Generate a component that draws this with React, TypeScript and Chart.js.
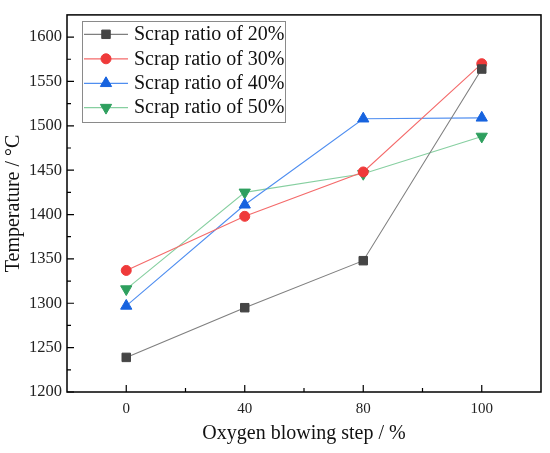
import React, { useEffect, useRef } from 'react';
import { Chart, registerables } from 'chart.js';

Chart.register(...registerables);

const categories: string[] = ['0', '40', '80', '100'];
const scrap20: number[] = [1239, 1295, 1348, 1564];
const scrap30: number[] = [1337, 1398, 1448, 1570];
const scrap40: number[] = [1297, 1411, 1508, 1509];
const scrap50: number[] = [1316, 1425, 1446, 1488];
const seriesLabels: string[] = [
  'Scrap ratio of 20%',
  'Scrap ratio of 30%',
  'Scrap ratio of 40%',
  'Scrap ratio of 50%',
];
const yMajorTicks: number[] = [1200, 1250, 1300, 1350, 1400, 1450, 1500, 1550, 1600];
const yMinorTicks: number[] = [1225, 1275, 1325, 1375, 1425, 1475, 1525, 1575];
const xMinorTicks: number[] = [0.5, 1.5, 2.5];

const FONT = '"Liberation Serif", "Times New Roman", serif';

type Marker = { style: string; radius: number; rotation: number; fill: string; line: string };
const markers: Marker[] = [
  { style: 'rect', radius: 6, rotation: 0, fill: '#454545', line: '#7f7f7f' },
  { style: 'circle', radius: 5, rotation: 0, fill: '#ef3a3a', line: '#f46a6a' },
  { style: 'triangle', radius: 6.5, rotation: 0, fill: '#1763df', line: '#4f8ef0' },
  { style: 'triangle', radius: 6.5, rotation: 180, fill: '#2e9f5e', line: '#86cfa0' },
];

function drawMarker(ctx: CanvasRenderingContext2D, m: Marker, x: number, y: number) {
  ctx.save();
  ctx.fillStyle = m.fill;
  ctx.strokeStyle = m.fill;
  ctx.lineWidth = 1;
  ctx.beginPath();
  const r = m.radius;
  if (m.style === 'circle') {
    ctx.arc(x, y, r, 0, Math.PI * 2);
  } else if (m.style === 'rect') {
    const s = Math.SQRT1_2 * r;
    ctx.rect(x - s, y - s, 2 * s, 2 * s);
  } else {
    let rad = (m.rotation * Math.PI) / 180;
    ctx.moveTo(x + Math.sin(rad) * r, y - Math.cos(rad) * r);
    rad += (2 * Math.PI) / 3;
    ctx.lineTo(x + Math.sin(rad) * r, y - Math.cos(rad) * r);
    rad += (2 * Math.PI) / 3;
    ctx.lineTo(x + Math.sin(rad) * r, y - Math.cos(rad) * r);
  }
  ctx.closePath();
  ctx.fill();
  ctx.stroke();
  ctx.restore();
}

const framePlugin = {
  id: 'frameAndTicks',
  afterDraw(chart: any) {
    const ctx: CanvasRenderingContext2D = chart.ctx;
    const { left, right, top, bottom } = chart.chartArea;
    const xs = chart.scales.x;
    const ys = chart.scales.y;
    ctx.save();
    ctx.strokeStyle = '#000';
    ctx.lineWidth = 1.5;
    ctx.strokeRect(left, top, right - left, bottom - top);
    ctx.lineWidth = 1.2;
    ctx.beginPath();
    yMajorTicks.forEach((v) => {
      const y = ys.getPixelForValue(v);
      ctx.moveTo(left, y);
      ctx.lineTo(left + 7, y);
    });
    yMinorTicks.forEach((v) => {
      const y = ys.getPixelForValue(v);
      ctx.moveTo(left, y);
      ctx.lineTo(left + 4, y);
    });
    categories.forEach((_, i) => {
      const x = xs.getPixelForValue(i);
      ctx.moveTo(x, bottom);
      ctx.lineTo(x, bottom - 7);
    });
    xMinorTicks.forEach((v) => {
      const x0 = xs.getPixelForValue(Math.floor(v));
      const x1 = xs.getPixelForValue(Math.ceil(v));
      const x = x0 + (x1 - x0) * (v - Math.floor(v));
      ctx.moveTo(x, bottom);
      ctx.lineTo(x, bottom - 4);
    });
    ctx.stroke();

    // legend
    const bx = 82, by = 21, bw = 203, bh = 101;
    ctx.fillStyle = '#fff';
    ctx.fillRect(bx, by, bw, bh);
    ctx.strokeStyle = '#8a8a8a';
    ctx.lineWidth = 1;
    ctx.strokeRect(bx + 0.5, by + 0.5, bw, bh);
    const rowY = [34.3, 58.8, 83.3, 107.6];
    ctx.font = `20px ${FONT}`;
    ctx.textBaseline = 'middle';
    ctx.textAlign = 'left';
    seriesLabels.forEach((label, i) => {
      const m = markers[i];
      const y = rowY[i];
      ctx.strokeStyle = m.line;
      ctx.lineWidth = 1.2;
      ctx.beginPath();
      ctx.moveTo(84, y);
      ctx.lineTo(128, y);
      ctx.stroke();
      drawMarker(ctx, m, 106, y);
      ctx.fillStyle = '#111';
      ctx.fillText(label, 134, y + 0.5);
    });
    ctx.restore();
  },
};

const seriesValues: number[][] = [scrap20, scrap30, scrap40, scrap50];

export default function App() {
  const ref = useRef<HTMLCanvasElement | null>(null);
  useEffect(() => {
    if (!ref.current) return;
    const chart = new Chart(ref.current, {
      type: 'line',
      data: {
        labels: categories,
        datasets: seriesValues.map((vals, i) => ({
          label: seriesLabels[i],
          data: vals,
          borderColor: markers[i].line,
          borderWidth: 1.1,
          pointStyle: markers[i].style as any,
          pointRadius: markers[i].radius,
          pointRotation: markers[i].rotation,
          pointBackgroundColor: markers[i].fill,
          pointBorderColor: markers[i].fill,
          pointBorderWidth: 1,
          tension: 0,
          fill: false,
        })),
      },
      options: {
        animation: false,
        responsive: false,
        maintainAspectRatio: false,
        layout: { padding: { top: 12, right: 9, left: 0, bottom: 0 } },
        plugins: { legend: { display: false }, tooltip: { enabled: false } },
        scales: {
          x: {
            type: 'category',
            offset: true,
            grid: { display: false, drawTicks: false },
            border: { display: false },
            ticks: { color: '#222', font: { family: FONT, size: 15 }, padding: 8, maxRotation: 0 },
            title: {
              display: true,
              text: 'Oxygen blowing step / %',
              color: '#111',
              font: { family: FONT, size: 20 },
              padding: { top: 0, bottom: 7 },
            },
            afterFit: (s: any) => { s.height = 61; },
          },
          y: {
            type: 'linear',
            min: 1200,
            max: 1625,
            grid: { display: false, drawTicks: false },
            border: { display: false },
            ticks: {
              stepSize: 50,
              includeBounds: false,
              color: '#222',
              font: { family: FONT, size: 16.5 },
              padding: 5,
              callback: (v: any) => String(v),
            },
            title: {
              display: true,
              text: 'Temperature / °C',
              color: '#111',
              font: { family: FONT, size: 20 },
              padding: { top: 2, bottom: 0 },
            },
            afterFit: (s: any) => { s.width = 67; },
          },
        },
      },
      plugins: [framePlugin],
    });
    return () => chart.destroy();
  }, []);
  return (
    <div style={{ position: 'fixed', left: 0, top: 0, width: 550, height: 453, background: '#fff' }}>
      <canvas ref={ref} width={550} height={453} style={{ width: 550, height: 453 }} />
    </div>
  );
}
